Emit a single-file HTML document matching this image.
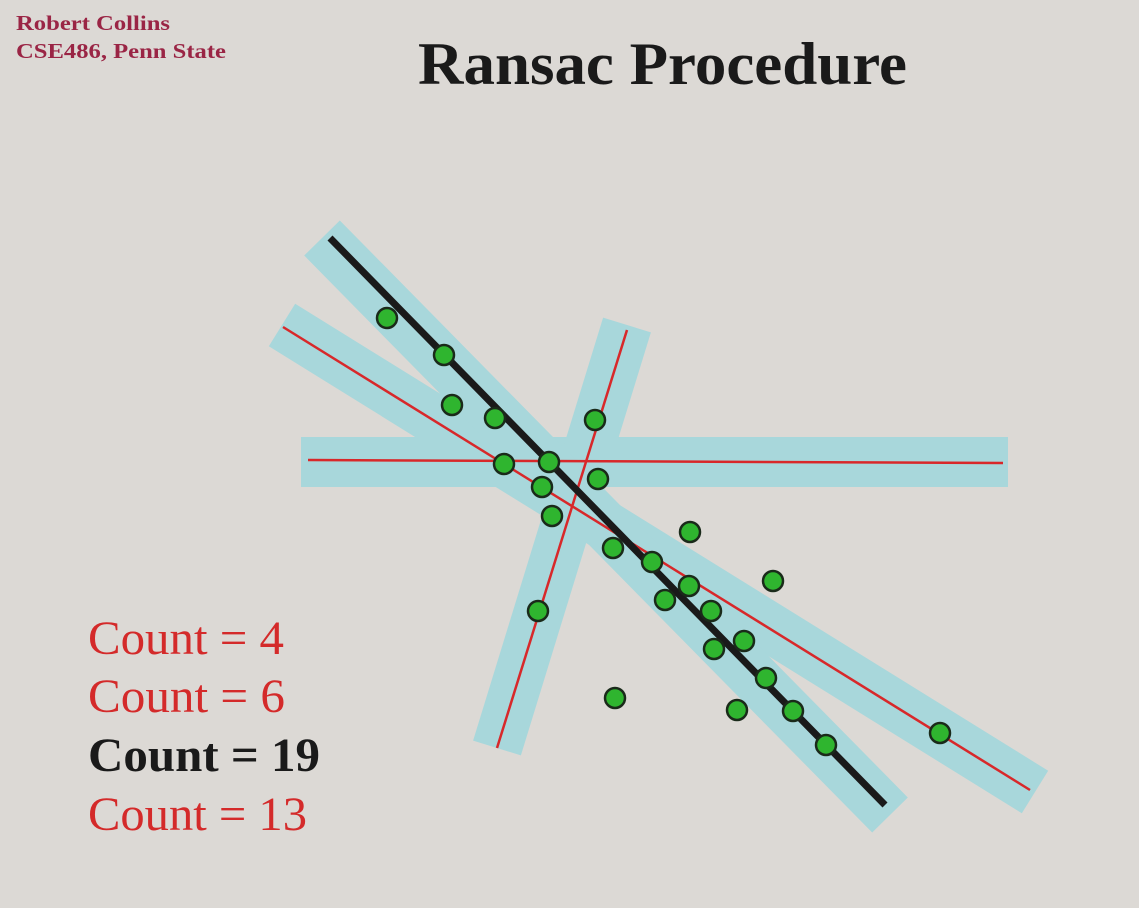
<!DOCTYPE html>
<html><head><meta charset="utf-8"><style>
html,body{margin:0;padding:0;background:#dcd9d5;}
svg{display:block;}
</style></head><body>
<svg width="1139" height="908" viewBox="0 0 1139 908" xmlns="http://www.w3.org/2000/svg">
<rect width="1139" height="908" fill="#dcd9d5"/>
<g stroke="#a8d7db" stroke-width="50" stroke-linecap="butt" fill="none">
<line x1="301" y1="462" x2="1008" y2="462"/>
<line x1="627" y1="325" x2="497" y2="748"/>
<line x1="282" y1="325" x2="1035" y2="792"/>
<line x1="322" y1="238" x2="890" y2="815"/>
</g>
<g stroke="#d8282a" stroke-width="2.5" fill="none">
<line x1="308" y1="460" x2="1003" y2="463"/>
<line x1="627" y1="330" x2="497" y2="748"/>
<line x1="283" y1="327" x2="1030" y2="790"/>
</g>
<line x1="330" y1="238" x2="885" y2="805" stroke="#1a1a1a" stroke-width="7"/>
<g fill="#2fb52f" stroke="#1a2a1a" stroke-width="2.5">
<circle cx="387" cy="318" r="10"/><circle cx="444" cy="355" r="10"/><circle cx="452" cy="405" r="10"/>
<circle cx="495" cy="418" r="10"/><circle cx="595" cy="420" r="10"/><circle cx="504" cy="464" r="10"/>
<circle cx="549" cy="462" r="10"/><circle cx="598" cy="479" r="10"/><circle cx="542" cy="487" r="10"/>
<circle cx="552" cy="516" r="10"/><circle cx="690" cy="532" r="10"/><circle cx="613" cy="548" r="10"/>
<circle cx="652" cy="562" r="10"/><circle cx="689" cy="586" r="10"/><circle cx="773" cy="581" r="10"/>
<circle cx="665" cy="600" r="10"/><circle cx="711" cy="611" r="10"/><circle cx="538" cy="611" r="10"/>
<circle cx="744" cy="641" r="10"/><circle cx="714" cy="649" r="10"/><circle cx="766" cy="678" r="10"/>
<circle cx="615" cy="698" r="10"/><circle cx="737" cy="710" r="10"/><circle cx="793" cy="711" r="10"/>
<circle cx="826" cy="745" r="10"/><circle cx="940" cy="733" r="10"/>
</g>
<g font-family="Liberation Serif, serif" font-weight="bold" fill="#9a2545" font-size="21">
<text x="16" y="30" textLength="154" lengthAdjust="spacingAndGlyphs">Robert Collins</text>
<text x="16" y="58" textLength="210" lengthAdjust="spacingAndGlyphs">CSE486, Penn State</text>
</g>
<text x="418" y="84" textLength="489" lengthAdjust="spacingAndGlyphs" font-family="Liberation Serif, serif" font-weight="bold" font-size="60" fill="#1a1a1a">Ransac Procedure</text>
<g font-family="Liberation Serif, serif" font-size="48">
<text x="88" y="654" fill="#d42a2a" textLength="196" lengthAdjust="spacingAndGlyphs">Count = 4</text>
<text x="88" y="712" fill="#d42a2a" textLength="197" lengthAdjust="spacingAndGlyphs">Count = 6</text>
<text x="88" y="771" fill="#1a1a1a" font-weight="bold" textLength="232" lengthAdjust="spacingAndGlyphs">Count = 19</text>
<text x="88" y="830" fill="#d42a2a" textLength="219" lengthAdjust="spacingAndGlyphs">Count = 13</text>
</g>
</svg>
</body></html>
